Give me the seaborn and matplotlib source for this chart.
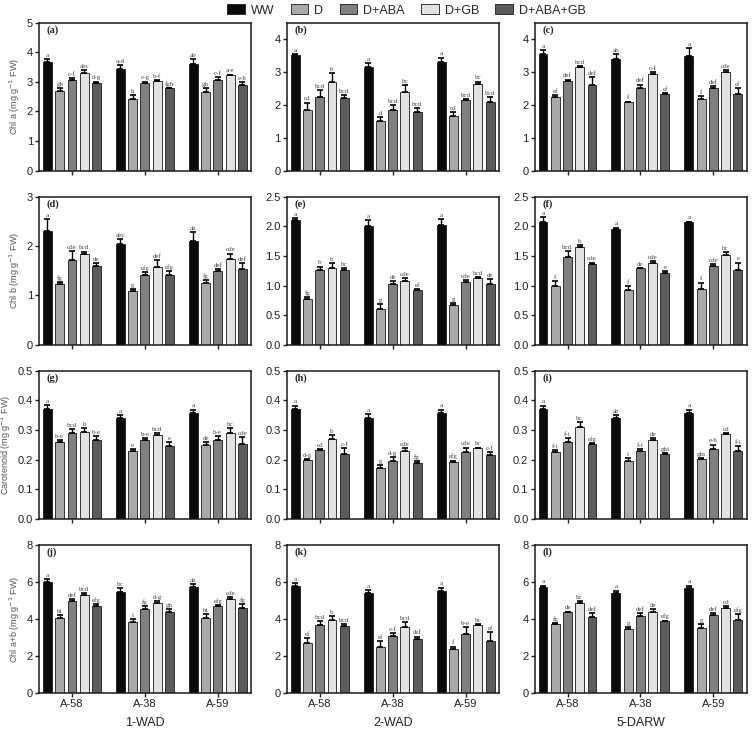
import pandas as pd
import seaborn as sns
import matplotlib.pyplot as plt
from matplotlib.ticker import MultipleLocator, FormatStrFormatter

sns.set_style('ticks')
plt.rcParams.update({
    'font.family': ['Liberation Sans', 'DejaVu Sans'],
    'axes.linewidth': 1.1,
    'xtick.labelsize': 8,
    'ytick.labelsize': 8,
})

# cultivars, treatments, stages
cultivars = ['A-58', 'A-38', 'A-59']
treatments = ['WW', 'D', 'D+ABA', 'D+GB', 'D+ABA+GB']
colors = ['#0a0a0a', '#a9a9a9', '#808080', '#e2e2e2', '#5c5c5c']
stages = ['1-WAD', '2-WAD', '5-DARW']

# Chl a
a_vals = [[3.68, 2.68, 3.06, 3.30, 2.97], [3.42, 2.43, 2.98, 3.03, 2.78], [3.62, 2.65, 3.05, 3.22, 2.90]]
a_err = [[0.10, 0.10, 0.08, 0.10, 0.04], [0.15, 0.12, 0.03, 0.02, 0.02], [0.14, 0.15, 0.10, 0.03, 0.10]]
a_sig = [['a', 'gh', 'c-f', 'abc', 'd-g'], ['a-d', 'h', 'c-g', 'b-f', 'fgh'], ['ab', 'gh', 'c-f', 'a-e', 'e-h']]

b_vals = [[3.53, 1.85, 2.25, 2.70, 2.22], [3.14, 1.52, 1.85, 2.38, 1.78], [3.32, 1.66, 2.15, 2.65, 2.10]]
b_err = [[0.02, 0.22, 0.20, 0.28, 0.08], [0.14, 0.12, 0.15, 0.22, 0.12], [0.12, 0.12, 0.03, 0.06, 0.15]]
b_sig = [['a', 'cd', 'bcd', 'b', 'bcd'], ['a', 'd', 'bcd', 'bc', 'bcd'], ['a', 'cd', 'bcd', 'bc', 'bcd']]

c_vals = [[3.55, 2.25, 2.73, 3.16, 2.62], [3.40, 2.08, 2.50, 2.95, 2.32], [3.48, 2.18, 2.52, 3.00, 2.33]]
c_err = [[0.12, 0.06, 0.04, 0.03, 0.22], [0.15, 0.02, 0.12, 0.04, 0.03], [0.25, 0.08, 0.06, 0.05, 0.18]]
c_sig = [['a', 'ef', 'def', 'bcd', 'def'], ['ab', 'f', 'def', 'c-f', 'ef'], ['a', 'f', 'def', 'cde', 'ef']]

# Chl b
d_vals = [[2.30, 1.23, 1.72, 1.85, 1.60], [2.05, 1.10, 1.42, 1.58, 1.42], [2.10, 1.25, 1.50, 1.73, 1.53]]
d_err = [[0.25, 0.04, 0.18, 0.04, 0.06], [0.10, 0.03, 0.05, 0.14, 0.08], [0.18, 0.06, 0.03, 0.12, 0.12]]
d_sig = [['a', 'fg', 'cde', 'bcd', 'de'], ['abc', 'g', 'efg', 'def', 'efg'], ['ab', 'fg', 'def', 'cde', 'def']]

e_vals = [[2.10, 0.78, 1.27, 1.30, 1.26], [2.00, 0.61, 1.02, 1.07, 0.93], [2.03, 0.68, 1.06, 1.13, 1.03]]
e_err = [[0.04, 0.03, 0.05, 0.08, 0.04], [0.10, 0.08, 0.06, 0.06, 0.01], [0.10, 0.02, 0.03, 0.02, 0.08]]
e_sig = [['a', 'fg', 'b', 'b', 'bc'], ['a', 'g', 'de', 'cde', 'ef'], ['a', 'g', 'cde', 'bcd', 'de']]

f_vals = [[2.08, 1.00, 1.48, 1.65, 1.37], [1.95, 0.93, 1.29, 1.38, 1.22], [2.07, 0.95, 1.33, 1.52, 1.27]]
f_err = [[0.08, 0.07, 0.10, 0.03, 0.02], [0.03, 0.06, 0.01, 0.04, 0.03], [0.01, 0.10, 0.04, 0.05, 0.12]]
f_sig = [['a', 'f', 'bcd', 'b', 'cde'], ['a', 'f', 'de', 'cde', 'e'], ['a', 'f', 'cde', 'bc', 'e']]

# Carotenoid
g_vals = [[0.370, 0.260, 0.290, 0.295, 0.268], [0.340, 0.230, 0.265, 0.285, 0.245], [0.357, 0.250, 0.267, 0.290, 0.253]]
g_err = [[0.015, 0.005, 0.012, 0.012, 0.012], [0.012, 0.005, 0.008, 0.004, 0.015], [0.012, 0.010, 0.012, 0.018, 0.022]]
g_sig = [['a', 'b-e', 'bcd', 'b', 'b-e'], ['a', 'e', 'b-e', 'bcd', 'e'], ['a', 'de', 'b-e', 'bc', 'cde']]

h_vals = [[0.370, 0.198, 0.232, 0.270, 0.218], [0.340, 0.172, 0.196, 0.228, 0.190], [0.357, 0.193, 0.226, 0.238, 0.216]]
h_err = [[0.013, 0.004, 0.004, 0.012, 0.022], [0.013, 0.010, 0.012, 0.010, 0.006], [0.012, 0.004, 0.015, 0.003, 0.010]]
h_sig = [['a', 'd-g', 'cd', 'b', 'c-f'], ['a', 'g', 'd-g', 'cde', 'fg'], ['a', 'efg', 'cde', 'bc', 'c-f']]

i_vals = [[0.370, 0.226, 0.260, 0.310, 0.252], [0.340, 0.196, 0.228, 0.268, 0.218], [0.357, 0.202, 0.235, 0.288, 0.228]]
i_err = [[0.013, 0.005, 0.012, 0.016, 0.005], [0.012, 0.010, 0.008, 0.004, 0.003], [0.012, 0.003, 0.016, 0.003, 0.018]]
i_sig = [['a', 'f-i', 'f-i', 'bc', 'efg'], ['ab', 'i', 'f-i', 'de', 'ghi'], ['a', 'ghi', 'e-h', 'cd', 'f-i']]

# Chl a+b
j_vals = [[6.00, 4.05, 4.95, 5.30, 4.72], [5.48, 3.85, 4.55, 4.85, 4.40], [5.75, 4.05, 4.70, 5.10, 4.60]]
j_err = [[0.15, 0.15, 0.12, 0.08, 0.08], [0.18, 0.15, 0.15, 0.12, 0.12], [0.15, 0.20, 0.05, 0.10, 0.20]]
j_sig = [['a', 'hi', 'def', 'bcd', 'efg'], ['bc', 'i', 'fg', 'd-g', 'gh'], ['ab', 'hi', 'efg', 'cde', 'fg']]

k_vals = [[5.78, 2.72, 3.65, 3.92, 3.62], [5.42, 2.50, 3.10, 3.55, 2.93], [5.52, 2.38, 3.20, 3.65, 2.80]]
k_err = [[0.15, 0.25, 0.25, 0.25, 0.10], [0.12, 0.30, 0.15, 0.28, 0.12], [0.18, 0.12, 0.35, 0.08, 0.50]]
k_sig = [['a', 'ef', 'bcd', 'b', 'bcd'], ['a', 'ef', 'c-f', 'bcd', 'def'], ['a', 'f', 'b-e', 'bc', 'ef']]

l_vals = [[5.75, 3.72, 4.35, 4.88, 4.12], [5.38, 3.48, 4.15, 4.35, 3.87], [5.65, 3.50, 4.20, 4.60, 3.95]]
l_err = [[0.05, 0.06, 0.05, 0.10, 0.18], [0.15, 0.10, 0.15, 0.20, 0.04], [0.15, 0.20, 0.12, 0.08, 0.32]]
l_sig = [['a', 'fg', 'de', 'bc', 'def'], ['a', 'g', 'def', 'de', 'efg'], ['a', 'g', 'def', 'cd', 'efg']]

panels = [
    ('a', a_vals, a_err, a_sig), ('b', b_vals, b_err, b_sig), ('c', c_vals, c_err, c_sig),
    ('d', d_vals, d_err, d_sig), ('e', e_vals, e_err, e_sig), ('f', f_vals, f_err, f_sig),
    ('g', g_vals, g_err, g_sig), ('h', h_vals, h_err, h_sig), ('i', i_vals, i_err, i_sig),
    ('j', j_vals, j_err, j_sig), ('k', k_vals, k_err, k_sig), ('l', l_vals, l_err, l_sig),
]
row_ylabels = ['Chl a (mg g$^{-1}$ FW)', 'Chl b (mg g$^{-1}$ FW)',
               'Carotenoid (mg g$^{-1}$ FW)', 'Chl a+b (mg g$^{-1}$ FW)']
# (ymax, tick step, tick format) per row / column
row_axes = [
    [(5, 1, '%d'), (4.5, 1, '%d'), (4.5, 1, '%d')],
    [(3, 1, '%d'), (2.5, 0.5, '%.1f'), (2.5, 0.5, '%.1f')],
    [(0.5, 0.1, '%.1f'), (0.5, 0.1, '%.1f'), (0.5, 0.1, '%.1f')],
    [(8, 2, '%d'), (8, 2, '%d'), (8, 2, '%d')],
]

fig, axes = plt.subplots(4, 3, figsize=(7.53, 7.34), dpi=100)
fig.subplots_adjust(left=0.052, right=0.992, top=0.969, bottom=0.056, wspace=0.167, hspace=0.177)

handles, labels = None, None
for idx, (tag, vals, errs, sigs) in enumerate(panels):
    r, c = divmod(idx, 3)
    ax = axes[r, c]
    df = pd.DataFrame([
        {'cultivar': cv, 'treatment': tr, 'value': vals[ci][ti]}
        for ci, cv in enumerate(cultivars) for ti, tr in enumerate(treatments)
    ])
    sns.barplot(data=df, x='cultivar', y='value', hue='treatment', order=cultivars,
                hue_order=treatments, palette=colors, width=0.84, gap=0.27,
                edgecolor='#1a1a1a', linewidth=0.6, errorbar=None, ax=ax,
                legend=(idx == 0))
    if idx == 0:
        handles, labels = ax.get_legend_handles_labels()
        ax.get_legend().remove()

    ymax, step, fmt = row_axes[r][c]
    bars = sorted([b for cont in ax.containers for b in cont], key=lambda p: p.get_x())
    xs = [b.get_x() + b.get_width() / 2 for b in bars]
    ys = [v for row in vals for v in row]
    es = [e for row in errs for e in row]
    ss = [s for row in sigs for s in row]
    ax.errorbar(xs, ys, yerr=[[0] * len(es), es], fmt='none', ecolor='black',
                elinewidth=1.0, capsize=2, capthick=1.2, zorder=5)
    for x, y, e, s in zip(xs, ys, es, ss):
        ax.text(x, y + e + ymax * 0.008, s, ha='center', va='bottom', fontsize=5.0,
                family=['Liberation Serif', 'DejaVu Serif'], color='#444444')

    ax.set_ylim(0, ymax)
    ax.set_xlim(-0.45, 2.46)
    ax.yaxis.set_major_locator(MultipleLocator(step))
    ax.yaxis.set_major_formatter(FormatStrFormatter(fmt))
    ax.tick_params(axis='both', direction='out', length=3, width=1, colors='#222222', pad=1.5)
    for sp in ax.spines.values():
        sp.set_visible(True)
        sp.set_color('#1a1a1a')
    ax.text(0.035, 0.985, f'({tag})', transform=ax.transAxes, ha='left', va='top',
            fontsize=7.5, fontweight='bold', family=['Liberation Serif', 'DejaVu Serif'])

    ax.set_xlabel(stages[c] if r == 3 else '', fontsize=9, color='#222222', labelpad=6)
    if r < 3:
        ax.set_xticklabels([])
    ax.set_ylabel(row_ylabels[r] if c == 0 else '', fontsize=6.5, color='#555555', labelpad=3)

fig.legend(handles, labels, loc='center', bbox_to_anchor=(0.54, 0.986), ncol=5,
           frameon=False, fontsize=9, handlelength=1.4, handleheight=0.9,
           columnspacing=1.3, handletextpad=0.5)

fig.savefig('out.png', dpi=100)
